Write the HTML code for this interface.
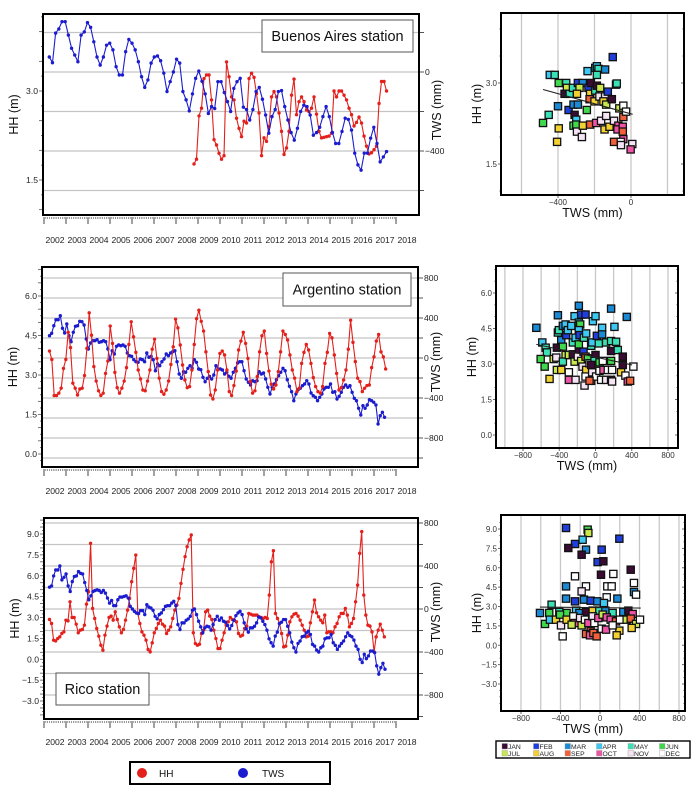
<!DOCTYPE html>
<html><head><meta charset="utf-8"><style>
html,body{margin:0;padding:0;background:#fff;}
svg{display:block;font-family:"Liberation Sans",Arial,sans-serif;}
</style></head><body>
<svg id="fig" width="694" height="785" viewBox="0 0 694 785" xmlns="http://www.w3.org/2000/svg"></svg>
<script>
// ---------- DATA ----------
const yearTicks=[2002,2003,2004,2005,2006,2007,2008,2009,2010,2011,2012,2013,2014,2015,2016,2017,2018];
const monthNames=["JAN","FEB","MAR","APR","MAY","JUN","JUL","AUG","SEP","OCT","NOV","DEC"];
const monthColors=["#3a0b33","#1f3fdc","#1b8ad6","#3cc8f2","#3be0b4","#40d84c","#c9e84c","#f2d232","#f0603a","#f052a6","#f4e4f4","#ffffff"];

// Buenos Aires
const baTwsSpan=[2002.24,2017.57];
const baTws=[76,47,197,218,255,255,187,120,86,52,187,203,250,226,153,76,35,76,136,146,112,27,-15,-15,103,165,146,112,52,-24,-78,-40,45,76,81,57,-6,-99,-49,0,65,45,-99,-141,-197,-111,-32,5,-47,-111,-210,-175,-185,-49,-49,-104,-150,-200,-83,-49,-32,-178,-190,-243,-190,-99,-78,-138,-218,-310,-226,-190,-99,-94,-175,-243,-307,-345,-285,-200,-168,-175,-218,-320,-307,-280,-226,-175,-226,-307,-362,-362,-301,-234,-240,-294,-411,-470,-497,-411,-411,-335,-280,-362,-455,-430,-403];
const baHhSpan=[2008.82,2017.57];
const baHh=[1.77,1.85,2.58,2.71,3.21,3.27,3.27,2.85,2.18,2.09,1.95,1.85,1.91,3.49,3.24,2.90,2.85,2.54,2.37,2.23,2.49,2.46,3.21,3.30,3.23,2.96,2.63,1.91,2.21,2.15,2.40,2.90,2.99,2.90,2.63,2.32,1.93,2.04,2.32,2.93,3.20,2.60,2.82,2.90,2.82,2.68,2.65,2.71,2.90,2.61,2.32,2.21,2.22,2.23,2.24,2.29,3.0,2.90,3.0,3.0,2.93,2.85,2.71,2.60,2.41,2.47,2.56,2.46,2.24,2.07,1.94,1.96,2.01,2.07,2.79,3.16,3.16,3.0];

// Argentino
const arHhSpan=[2002.25,2017.53];
const arHh=[3.91,3.59,2.22,2.22,2.31,2.5,3.25,3.59,4.62,4.04,2.69,2.5,2.24,2.47,2.5,2.98,4.01,5.36,4.51,3.32,2.77,2.40,2.22,2.31,3.06,3.53,4.86,4.2,3.1,2.52,2.31,2.50,2.77,3.28,4.16,5.02,4.45,3.86,3.19,2.85,2.43,2.40,2.77,3.19,3.98,4.36,3.63,2.88,2.37,2.27,2.43,2.77,3.40,4.07,5.12,4.79,4.14,3.38,2.81,2.52,2.56,3.19,4.16,5.14,5.46,5.04,4.67,3.88,3.13,2.24,2.09,2.43,3.19,3.82,3.91,3.76,3.19,2.37,2.22,2.60,3.15,3.95,4.29,4.62,4.20,3.63,2.75,2.31,2.40,2.94,3.88,4.49,4.67,3.82,3.15,2.65,2.47,2.62,3.13,3.88,4.67,4.54,4.33,3.76,3.19,2.88,2.37,2.50,3.44,3.86,4.16,3.95,3.44,2.90,2.56,2.37,2.31,2.56,3.44,3.86,4.58,4.41,3.76,3.06,2.43,2.52,2.81,3.19,3.98,5.08,4.24,3.51,2.88,2.75,2.37,2.5,2.60,2.62,3.28,3.69,4.29,4.54,3.88,3.69,3.23];
const arTwsSpan=[2002.25,2017.48];
const arTws=[223,247,323,383,383,423,297,250,340,223,163,257,317,323,367,363,330,190,90,150,173,173,183,157,163,173,163,90,-17,73,40,117,130,123,130,117,50,23,17,-17,-37,-43,-10,-17,-37,50,7,17,-17,-127,-60,-77,-37,-10,40,23,50,63,73,-37,-160,-203,-137,-143,-103,-77,-103,-17,-43,-110,-117,-193,-237,-203,-183,-210,-170,-77,-110,-110,-120,-160,-143,-183,-203,-143,-103,-50,-37,-37,-127,-210,-243,-270,-227,-237,-227,-137,-160,-150,-210,-293,-360,-293,-260,-217,-177,-143,-103,-127,-217,-283,-337,-427,-360,-317,-303,-277,-260,-227,-260,-350,-377,-393,-427,-393,-360,-310,-293,-293,-260,-343,-337,-410,-383,-343,-293,-270,-293,-277,-343,-403,-427,-503,-570,-477,-503,-470,-417,-427,-443,-470,-660,-577,-543,-593];

// Rico
const riHhSpan=[2002.25,2017.47];
const riHh=[2.86,2.57,1.37,1.32,1.49,1.61,1.85,1.97,2.81,2.76,4.13,3.0,3.0,2.52,1.90,2.09,2.14,2.45,3.96,4.85,8.33,3.65,2.93,2.21,1.66,1.01,0.65,1.73,2.38,3.0,3.10,2.81,3.41,2.86,2.33,1.90,2.14,2.81,3.53,4.37,5.57,6.53,7.49,3.29,2.57,1.97,1.73,1.37,0.70,0.53,1.18,1.90,2.21,2.57,2.81,2.52,2.38,1.85,2.09,2.33,2.93,3.53,3.89,4.37,5.45,6.46,7.37,8.09,8.57,8.93,1.90,1.13,1.01,1.08,1.85,2.09,3.41,3.53,3.10,2.86,2.09,1.49,0.77,0.77,1.37,1.90,2.45,2.69,3.0,2.86,2.81,2.69,1.85,1.66,1.73,2.21,2.38,3.29,3.24,3.17,3.17,3.17,3.05,3.0,2.93,3.0,2.93,4.61,7.0,7.8,3.29,2.93,2.57,1.85,0.89,0.94,1.73,2.69,3.05,3.24,3.29,3.10,2.81,2.45,2.09,1.61,1.66,2.62,3.41,4.25,3.34,3.05,2.81,2.62,3.17,1.90,1.97,1.97,1.90,2.33,2.57,3.05,3.29,3.29,3.65,3.17,2.33,2.57,2.93,4.13,5.33,7.61,9.17,4.61,3.17,2.45,2.38,1.97,0.53,1.61,2.09,2.52,2.09,1.61];
const riTwsSpan=[2002.25,2017.5];
const riTws=[203,215,308,363,363,400,271,295,326,215,163,255,302,308,348,332,326,246,172,86,123,163,172,178,172,154,172,148,102,55,80,31,31,86,111,111,117,123,102,25,0,-22,-37,-43,-15,-15,-52,40,18,9,-12,-68,-92,-52,-37,-6,25,31,31,55,71,31,-145,-191,-129,-129,-105,-92,-68,-12,0,-52,-114,-166,-222,-175,-160,-166,-197,-145,-98,-68,-105,-83,-114,-123,-154,-185,-154,-105,-62,-37,-22,-52,-129,-185,-215,-175,-175,-160,-129,-74,-83,-114,-145,-197,-277,-314,-345,-252,-215,-135,-123,-98,-98,-160,-222,-308,-360,-400,-320,-298,-258,-252,-222,-206,-237,-329,-345,-382,-400,-360,-345,-277,-268,-268,-237,-314,-338,-375,-345,-320,-298,-258,-222,-246,-258,-289,-345,-375,-468,-498,-422,-462,-437,-391,-391,-406,-529,-606,-545,-505,-560];

// Scatter Buenos Aires
const sc1Tws=[-445,-418,-482,-451,-400,-396,-405,-396,-355,-351,-364,-336,-342,-315,-291,-318,-309,-300,-315,-300,-296,-269,-264,-291,-264,-282,-296,-238,-233,-220,-224,-227,-242,-224,-191,-196,-187,-178,-187,-142,-196,-187,-169,-200,-164,-136,-173,-142,-151,-136,-127,-105,-100,-82,-78,-145,-118,-93,-69,-74,-45,-42,-64,-42,-27,-45,-42,-93,-56,-55,7,-2];
const sc1Hh=[3.15,3.15,2.26,2.41,2.57,2.16,1.91,3.0,3.0,2.91,2.80,2.80,2.50,2.60,2.60,2.91,2.41,2.32,2.21,2.23,2.10,2.0,2.21,3.0,3.0,2.91,2.80,3.22,2.91,3.0,2.80,2.70,2.50,2.23,2.26,3.28,3.31,3.26,3.15,3.25,2.86,2.95,2.91,2.66,2.30,2.39,2.75,2.75,2.66,2.60,2.84,2.70,3.48,2.97,2.99,2.14,2.19,2.30,2.21,2.14,2.19,2.37,2.53,2.58,2.47,2.10,1.96,1.91,1.91,1.85,1.87,1.77];
const sc1Mon=[3,4,5,4,2,7,7,5,4,6,0,4,1,2,2,4,0,3,5,5,10,10,7,1,2,6,7,3,1,0,7,8,5,8,9,3,3,4,4,2,4,0,6,7,10,10,10,10,7,6,1,0,1,6,4,7,7,10,9,9,9,8,6,11,11,8,9,8,11,10,10,9];
const fit1Tws=[-482,9], fit1Hh=[2.88,2.42];

// Scatter Argentino
const sc2Tws=[-653,-587,-550,-536,-605,-561,-507,-462,-426,-426,-433,-415,-415,-404,-378,-360,-330,-323,-305,-360,-330,-360,-378,-294,-294,-294,-268,-250,-250,-231,-220,-220,-184,-231,-184,-184,-169,-184,-176,-184,-195,-158,-143,-158,-110,-128,-103,-132,-110,-84,-103,-110,-121,-66,-48,-37,-29,0,15,0,-11,-37,-48,7,44,44,37,73,73,88,62,117,136,117,172,172,172,172,183,172,183,209,227,246,301,301,282,345,330,356,382,418,81,-48,-66];
const sc2Hh=[4.53,3.91,3.69,3.49,3.21,2.89,2.37,3.21,3.69,2.75,3.27,5.06,4.33,4.43,4.01,4.61,4.67,4.22,4.43,3.73,3.38,3.10,2.75,3.38,2.65,2.33,4.61,3.91,3.41,3.10,2.33,4.11,3.59,5.02,5.46,4.75,4.67,4.43,4.22,3.83,3.31,3.13,2.89,5.09,5.09,4.11,4.29,3.52,3.31,3.24,2.75,2.47,2.09,3.03,3.77,3.91,4.81,5.02,4.19,3.38,3.13,2.65,2.29,2.47,3.07,2.71,3.87,4.53,4.25,2.75,2.33,3.91,2.75,2.33,3.97,5.34,3.55,3.13,2.75,2.33,2.26,4.57,3.94,3.59,3.31,2.96,2.65,4.99,2.51,2.26,2.29,2.89,3.13,2.96,2.29];
const sc2Mon=[2,3,4,4,5,5,7,6,0,6,10,2,4,4,2,2,3,1,3,5,6,4,7,6,11,9,3,4,0,6,10,3,0,3,2,3,5,3,1,5,10,6,10,1,1,4,3,1,8,5,7,11,10,11,4,3,3,3,1,0,4,10,8,11,5,11,4,3,2,9,11,4,11,10,4,2,0,5,11,0,10,3,4,4,0,0,7,2,11,9,8,11,11,0,8];
const fit2Tws=[-653,404], fit2Hh=[3.83,2.96];

// Scatter Rico
const sc3Tws=[-344,-125,-118,-176,196,-253,-321,-142,17,-186,-24,34,311,10,135,-253,344,-344,-142,74,118,344,365,-186,68,-344,-253,-162,-95,-27,40,176,-490,-608,-514,-412,-338,-243,-209,-142,-74,-7,54,128,236,287,331,-557,-507,-446,-405,-395,-338,-270,-253,-287,-202,-186,-152,-118,-74,-57,-17,27,68,108,162,202,270,311,365,405,321,196,169,-95,-142,-101,-67,-34,17,61,-378,128];
const sc3Hh=[9.08,8.95,8.69,8.17,8.25,7.84,7.53,7.40,7.40,7.01,6.44,6.50,5.85,5.46,5.52,5.34,4.82,4.56,4.56,4.56,4.56,4.12,3.92,4.17,3.71,3.61,3.40,3.53,3.45,3.40,3.27,3.61,3.14,2.50,2.50,2.58,2.50,2.68,2.50,2.58,2.68,2.68,2.68,2.50,2.58,2.68,2.42,1.65,1.98,1.98,2.37,1.54,1.98,2.24,1.72,1.59,2.11,1.54,1.98,1.72,2.24,1.72,2.11,2.37,2.16,1.98,1.85,1.98,1.98,2.06,1.65,1.98,1.34,1.13,0.77,1.08,0.87,0.77,0.95,0.69,1.28,1.21,0.69,1.54];
const sc3Mon=[1,5,6,3,1,1,0,2,1,0,1,0,0,0,11,11,11,2,11,11,11,2,11,10,11,2,1,2,1,2,3,2,4,2,5,4,5,3,2,0,7,4,2,4,2,0,9,5,3,7,5,10,7,11,9,6,10,6,11,9,10,11,9,6,9,9,8,11,6,8,6,11,7,7,7,8,8,9,8,8,11,9,11,11];
const fit3Tws=[-608,412], fit3Hh=[2.96,2.88];

const hh1Ticks=[3.0,1.5], tws1Ticks=[0,-400];
const hh2Ticks=[6.0,4.5,3.0,1.5,0.0], tws2Ticks=[800,400,0,-400,-800];
const hh3Ticks=[9.0,7.5,6.0,4.5,3.0,1.5,0.0,-1.5,-3.0], tws3Ticks=[800,400,0,-400,-800];
const sx1Ticks=[-400,0], sy1Ticks=[3.0,1.5];
const sx2Ticks=[-800,-400,0,400,800], sy2Ticks=[6.0,4.5,3.0,1.5,0.0];
const sx3Ticks=[-800,-400,0,400,800], sy3Ticks=[9.0,7.5,6.0,4.5,3.0,1.5,0.0,-1.5,-3.0];

// ---------- DRAWING ----------
const NS="http://www.w3.org/2000/svg";
const svg=document.getElementById('fig');
function el(tag,attrs,parent,text){const e=document.createElementNS(NS,tag);for(const k in attrs)e.setAttribute(k,attrs[k]);if(text!==undefined)e.textContent=text;(parent||svg).appendChild(e);return e;}
function lin(a0,p0,a1,p1){return v=>p0+(v-a0)*(p1-p0)/(a1-a0);}
function fmt(v){return v.toFixed(1).replace('-','\u2212');}
function fmtI(v){return String(v).replace('-','\u2212');}
function spanTimes(span,n){const t=[];for(let i=0;i<n;i++)t.push(span[0]+i*(span[1]-span[0])/(n-1));return t;}

function tsPanel(cfg){
  const g=el('g',{});
  
  
  const b=cfg.box;
  const X=lin(2002,44,2018,396);
  const Yh=lin(cfg.hA[0],cfg.hA[1],cfg.hB[0],cfg.hB[1]);
  const Ym=lin(cfg.mA[0],cfg.mA[1],cfg.mB[0],cfg.mB[1]);
  el('rect',{x:b[0],y:b[1],width:b[2]-b[0],height:b[3]-b[1],fill:'#fff'},g);
  // gridlines every 200mm
  for(let m=-1200;m<=1200;m+=200){const y=Ym(m);if(y>b[1]+3&&y<b[3]-3){const gl=el('line',{x1:b[0],x2:b[2],y1:y,y2:y,stroke:'#c4c4c4','stroke-width':1.3},g);}}
  // right tick marks every 200
  for(let m=-1200;m<=1200;m+=200){const y=Ym(m);if(y>b[1]&&y<b[3])el('line',{x1:b[2],x2:b[2]+5,y1:y,y2:y,stroke:'#555','stroke-width':1},g);}
  // left minor ticks
  for(let v=-6;v<=12;v+=0.25){const y=Yh(v);if(y>b[1]+2&&y<b[3]-2)el('line',{x1:b[0]-(Math.abs(v*2-Math.round(v*2))<1e-6?4:2),x2:b[0],y1:y,y2:y,stroke:'#555','stroke-width':0.8},g);}
  // x ticks
  for(let t=2002;t<=2018;t+=1/12){const x=X(t);const major=Math.abs(t-Math.round(t))<1e-6;el('line',{x1:x,x2:x,y1:b[3]+2,y2:b[3]+(major?9:4),stroke:'#555','stroke-width':major?1.1:0.6},g);}
  yearTicks.forEach((yr,i)=>{if(i<yearTicks.length){const tx=el('text',{x:X(yr+0.5),y:cfg.labelY,'font-size':8.6,'text-anchor':'middle',fill:'#222'},g,String(yr));}});
  cfg.hTicks.forEach(v=>{const tx=el('text',{x:b[0]-5,y:Yh(v)+3,'font-size':8.6,'text-anchor':'end',fill:'#222'},g,fmt(v));});
  cfg.mTicks.forEach(v=>{const tx=el('text',{x:b[2]+6,y:Ym(v)+3,'font-size':8.6,fill:'#222'},g,fmtI(v));});
  const yl=el('text',{transform:`translate(${b[0]-25},${(b[1]+b[3])/2}) rotate(-90)`,'font-size':12.5,'text-anchor':'middle',fill:'#111'},g,'HH (m)');
  
  const yr=el('text',{transform:`translate(${b[2]+22},${cfg.mTitleY}) rotate(-90)`,'font-size':12.5,'text-anchor':'middle',fill:'#111'},g,'TWS (mm)');
  
  // series
  function series(span,vals,scale,color,nm){
    const ts=spanTimes(span,vals.length);
    const pts=vals.map((v,i)=>[X(ts[i]),scale(v)]);
    const pl=el('polyline',{points:pts.map(p=>p[0].toFixed(1)+','+p[1].toFixed(1)).join(' '),fill:'none',stroke:color,'stroke-width':1.1},g);
    
    pts.forEach(p=>{const c=el('circle',{cx:p[0],cy:p[1],r:1.7,fill:color},g);});
  }
  cfg.order.forEach(s=>{if(s==='hh')series(cfg.hhSpan,cfg.hh,Yh,'#e3201b','hh');else series(cfg.twsSpan,cfg.tws,Ym,'#1c1ccf','tws');});
  const fr=el('rect',{x:b[0],y:b[1],width:b[2]-b[0],height:b[3]-b[1],fill:'none',stroke:'#000','stroke-width':2},g);
  
  const lb=cfg.lbl;
  const lg=el('g',{},g);
  el('rect',{x:lb[0],y:lb[1],width:lb[2],height:lb[3],fill:'#fff',stroke:'#555','stroke-width':1},lg);
  el('text',{x:lb[0]+lb[2]/2,y:lb[1]+lb[3]/2+5,'font-size':14.5,'text-anchor':'middle',fill:'#111'},lg,cfg.title);
}

function scPanel(cfg){
  const g=el('g',{});
  
  
  const b=cfg.box;
  const X=lin(cfg.xA[0],cfg.xA[1],cfg.xB[0],cfg.xB[1]);
  const Y=lin(cfg.yA[0],cfg.yA[1],cfg.yB[0],cfg.yB[1]);
  el('rect',{x:b[0],y:b[1],width:b[2]-b[0],height:b[3]-b[1],fill:'#fff'},g);
  for(let m=-1200;m<=1200;m+=200){const x=X(m);if(x>b[0]+3&&x<b[2]-3){const gl=el('line',{x1:x,x2:x,y1:b[1],y2:b[3],stroke:'#c8c8c8','stroke-width':1.3},g);}}
  cfg.yTicks.forEach(v=>{const y=Y(v);el('line',{x1:b[0]-3,x2:b[0],y1:y,y2:y,stroke:'#555','stroke-width':0.9},g);el('line',{x1:b[2]-3,x2:b[2],y1:y,y2:y,stroke:'#555','stroke-width':0.9},g);
    const tx=el('text',{x:b[0]-4,y:y+3,'font-size':8,'text-anchor':'end',fill:'#333'},g,fmt(v));});
  for(let v=-6;v<=12;v+=0.5){const y=Y(v);if(y>b[1]+2&&y<b[3]-2){el('line',{x1:b[0]-2,x2:b[0],y1:y,y2:y,stroke:'#777','stroke-width':0.6},g);el('line',{x1:b[2]-2,x2:b[2],y1:y,y2:y,stroke:'#777','stroke-width':0.6},g);}}
  cfg.xTicks.forEach(v=>{const x=X(v);el('line',{x1:x,x2:x,y1:b[3],y2:b[3]+3,stroke:'#555','stroke-width':0.9},g);
    const tx=el('text',{x:x,y:b[3]+10,'font-size':8,'text-anchor':'middle',fill:'#333'},g,fmtI(v));});
  const xt=el('text',{x:(b[0]+b[2])/2,y:b[3]+22,'font-size':12.5,'text-anchor':'middle',fill:'#111'},g,'TWS  (mm)');
  
  const yt=el('text',{transform:`translate(${b[0]-20},${(b[1]+b[3])/2}) rotate(-90)`,'font-size':12.5,'text-anchor':'middle',fill:'#111'},g,'HH (m)');
  
  const n=Math.min(cfg.tws.length,cfg.hh.length,cfg.mon.length);
  for(let i=0;i<n;i++){const x=X(cfg.tws[i]),y=Y(cfg.hh[i]);
    const r=el('rect',{x:x-3.6,y:y-3.6,width:7.2,height:7.2,fill:monthColors[cfg.mon[i]],stroke:'#111','stroke-width':1.3},g);
    }
  const fl=el('line',{x1:X(cfg.fitX[0]),y1:Y(cfg.fitY[0]),x2:X(cfg.fitX[1]),y2:Y(cfg.fitY[1]),stroke:'#222','stroke-width':1.1},g);
  
  const fr=el('rect',{x:b[0],y:b[1],width:b[2]-b[0],height:b[3]-b[1],fill:'none',stroke:'#000','stroke-width':2},g);
  
}

tsPanel({name:'buenos-aires-timeseries',box:[43,14,419,215],hA:[3.0,91],hB:[1.5,180],mA:[0,72],mB:[-400,151],
  hTicks:hh1Ticks,mTicks:tws1Ticks,labelY:243,mTitleY:110,title:'Buenos Aires station',lbl:[262,20,151,32],
  hhSpan:baHhSpan,hh:baHh,twsSpan:baTwsSpan,tws:baTws,order:['hh','tws']});
tsPanel({name:'argentino-timeseries',box:[42,267,418,467],hA:[6.0,296],hB:[0,454],mA:[0,358],mB:[400,318],
  hTicks:hh2Ticks,mTicks:tws2Ticks,labelY:494,mTitleY:362,title:'Argentino station',lbl:[283,273,128,33],
  hhSpan:arHhSpan,hh:arHh,twsSpan:arTwsSpan,tws:arTws,order:['tws','hh']});
tsPanel({name:'rico-timeseries',box:[44,518,418,719],hA:[9.0,534],hB:[-3.0,701],mA:[0,609],mB:[400,566],
  hTicks:hh3Ticks,mTicks:tws3Ticks,labelY:745,mTitleY:612,title:'Rico station',lbl:[56,673,93,32],
  hhSpan:riHhSpan,hh:riHh,twsSpan:riTwsSpan,tws:riTws,order:['hh','tws']});

scPanel({name:'buenos-aires-scatter',box:[501,13,684,195],xA:[-400,558],xB:[0,631],yA:[3.0,83],yB:[1.5,164],
  xTicks:sx1Ticks,yTicks:sy1Ticks,tws:sc1Tws,hh:sc1Hh,mon:sc1Mon,fitX:fit1Tws,fitY:fit1Hh});
scPanel({name:'argentino-scatter',box:[496,266,678,448],xA:[-800,523],xB:[800,668],yA:[6.0,293],yB:[0,435],
  xTicks:sx2Ticks,yTicks:sy2Ticks,tws:sc2Tws,hh:sc2Hh,mon:sc2Mon,fitX:fit2Tws,fitY:fit2Hh});
scPanel({name:'rico-scatter',box:[501,515,685,711],xA:[-800,521],xB:[800,679],yA:[9.0,529],yB:[-3.0,684],
  xTicks:sx3Ticks,yTicks:sy3Ticks,tws:sc3Tws,hh:sc3Hh,mon:sc3Mon,fitX:fit3Tws,fitY:fit3Hh});

// series legend
const lg=el('g',{});


el('rect',{x:130,y:762,width:200,height:22,fill:'#fff',stroke:'#000','stroke-width':2},lg);
const e1=el('g',{},lg);


el('circle',{cx:142,cy:773,r:5,fill:'#e3201b'},e1);
el('text',{x:159,y:777,'font-size':10,fill:'#111'},e1,'HH');
const e2=el('g',{},lg);


el('circle',{cx:243,cy:773,r:5,fill:'#1c1ccf'},e2);
el('text',{x:262,y:777,'font-size':10,fill:'#111'},e2,'TWS');

// month legend
const ml=el('g',{});


el('rect',{x:496,y:741,width:194,height:17,fill:'#fff',stroke:'#000','stroke-width':1.4},ml);
monthNames.forEach((m,i)=>{
  const col=i%6,row=Math.floor(i/6);
  const x=502+col*31.5,y=743.5+row*7;
  const it=el('g',{},ml);
  
  
  el('rect',{x:x,y:y,width:5.5,height:5.5,fill:monthColors[i],stroke:'#999','stroke-width':0.4},it);
  el('text',{x:x+6,y:y+5.3,'font-size':6.8,fill:'#222'},it,m);
});
</script>
</body></html>
